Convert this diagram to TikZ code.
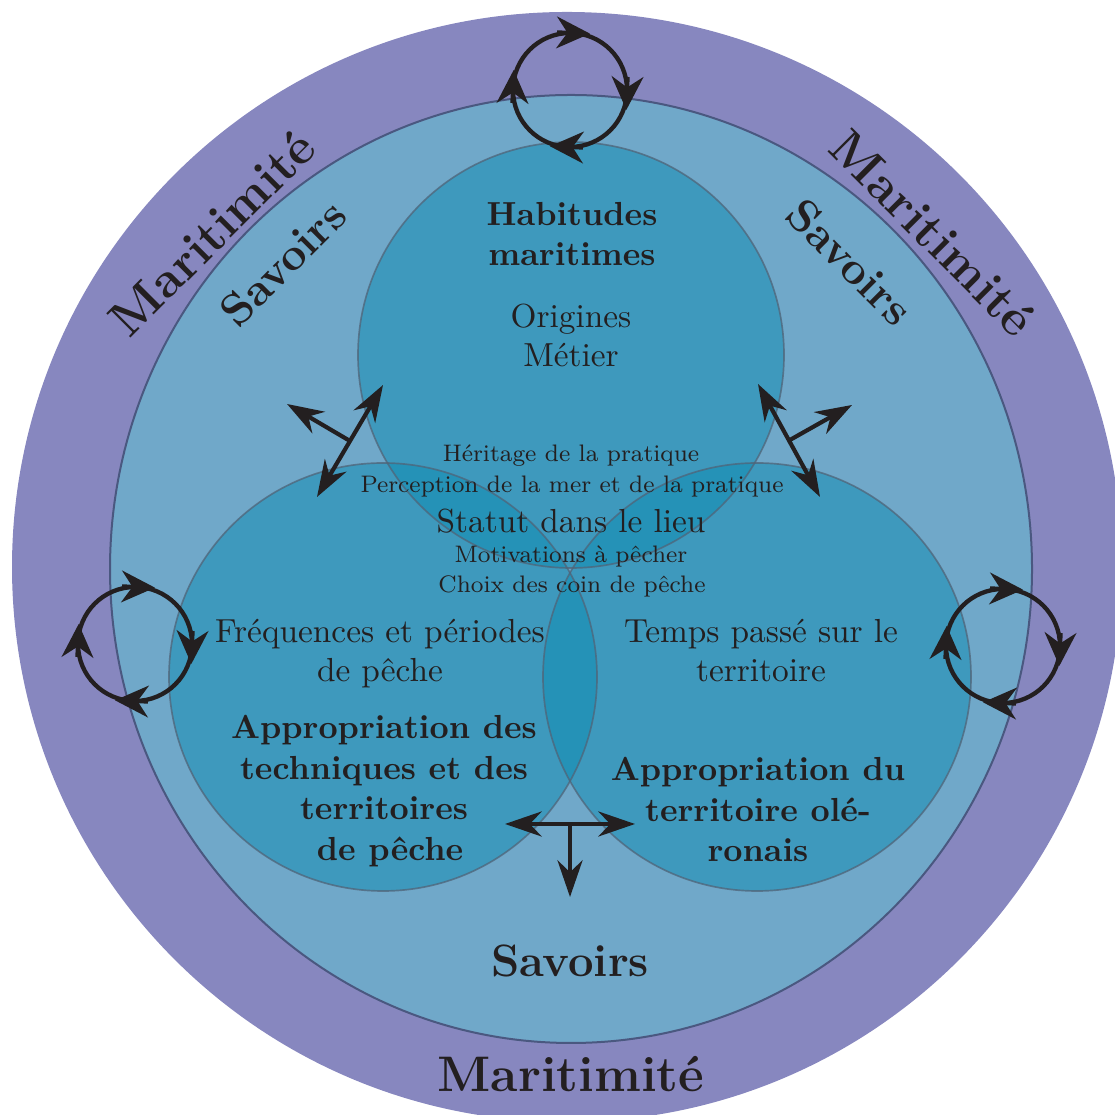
\documentclass[tikz,border=0pt]{standalone}
\usetikzlibrary{arrows.meta,calc}
\definecolor{purp}{RGB}{135,135,191}
\definecolor{lblue}{RGB}{112,168,201}
\definecolor{teal1}{RGB}{14,140,179}
\definecolor{edgea}{RGB}{74,88,128}
\definecolor{edgeb}{RGB}{80,100,120}
\definecolor{ink}{RGB}{35,31,32}
\newcommand{\shrk}[1]{\scalebox{0.955}{#1}}
\tikzset{
  txt/.style={text=ink, align=center, font=\fontsize{10}{11.7}\selectfont},
  txtb/.style={text=ink, align=center, font=\fontsize{10}{12.2}\selectfont\bfseries},
  smalltxt/.style={text=ink, anchor=base, font=\fontsize{7.5}{9}\selectfont},
  basetxt/.style={text=ink, anchor=base, font=\fontsize{10}{12}\selectfont},
  bigtxt/.style={text=ink, font=\fontsize{15}{18}\selectfont\bfseries},
  midtxt/.style={text=ink, font=\fontsize{13.6}{16}\selectfont\bfseries},
  xarr/.style={draw=ink, line width=1.25pt, {Stealth[length=11pt,width=7.5pt]}-{Stealth[length=11pt,width=7.5pt]}},
  xone/.style={draw=ink, line width=1.25pt, -{Stealth[length=11pt,width=7.5pt]}},
  ring/.style={draw=ink, line width=1.3pt},
  cyclehead/.style={draw=ink, line width=1.3pt, -{Stealth[length=10pt,width=9.5pt]}},
  disc/.style={fill=teal1, fill opacity=0.5},
  discedge/.style={draw=edgeb, draw opacity=0.75, line width=0.5pt},
}
\begin{document}
\begin{tikzpicture}[x=0.3pt,y=0.3pt]
\useasboundingbox (0,0) rectangle (1115,1115);
\begin{scope}
  \clip (0,0) rectangle (1115,1115);
  \fill[purp] (567,548) circle[radius=555];
\end{scope}
\draw[edgea, fill=lblue, line width=0.6pt] (571,546) ellipse[x radius=461, y radius=474];
% three discs
\coordinate (ctop) at (571,760);
\coordinate (cbl) at (383,438);
\coordinate (cbr) at (757,438);
\fill[disc] (ctop) circle[radius=213];
\fill[disc] (cbl) circle[radius=214];
\fill[disc] (cbr) circle[radius=214];
\draw[discedge] (ctop) circle[radius=213];
\draw[discedge] (cbl) circle[radius=214];
\draw[discedge] (cbr) circle[radius=214];

% texts
\node (habit) [txtb] at (572,881) {Habitudes\\maritimes};
\node (orig) [txt] at (571,780) {Origines\\Métier};
\node (herit) [smalltxt] at (571,653) {\shrk{Héritage de la pratique}};
\node (percep) [smalltxt] at (572,622) {\shrk{Perception de la mer et de la pratique}};
\node (statut) [basetxt] at (571,582) {Statut dans le lieu};
\node (motiv) [smalltxt] at (571,552) {\shrk{Motivations à pêcher}};
\node (choix) [smalltxt] at (572,522) {\shrk{Choix des coin de pêche}};
\node (freq) [txt] at (380,461) {Fréquences et périodes\\de pêche};
\node (temps) [txt] at (761,464) {Temps passé sur le\\territoire};
\node (appl) [txtb] at (384,324) {Appropriation des\\techniques et des\\territoires\\\hspace*{3.6pt}de pêche};
\node (appr) [txtb] at (758,305.5) {Appropriation du\\territoire olé-\\ronais};
\node (savb) [midtxt, anchor=base] at (570,138) {Savoirs};
\node (marb) [bigtxt, anchor=base] at (571,24) {Maritimité};
\node (marl) [bigtxt, rotate=45] at (212,882) {Maritimité};
\node (savl) [midtxt, rotate=45] at (283,852) {Savoirs};
\node (savr) [midtxt, rotate=-45] at (850,853) {Savoirs};
\node (marr) [bigtxt, rotate=-45] at (933,882) {Maritimité};

% cross arrows
\coordinate (la) at (317,618);
\coordinate (lb) at (383,730);
\coordinate (lj) at (350,674);
\coordinate (lt) at (287,711);
\draw[xarr] (la) -- (lb);
\draw[xone] (lj) -- (lt);
\coordinate (ra) at (758,731);
\coordinate (rb) at (820,618);
\coordinate (rj) at (789,674.5);
\coordinate (rt) at (852,710);
\draw[xarr] (ra) -- (rb);
\draw[xone] (rj) -- (rt);
\coordinate (ba) at (505,291);
\coordinate (bb) at (635,291);
\coordinate (bj) at (570,291);
\coordinate (bt) at (570,218);
\draw[xarr] (ba) -- (bb);
\draw[xone] (bj) -- (bt);

% cycle loops: ring with four tangent heads (clockwise)
\foreach \cx/\cy/\nm in {570/1025/lt1, 135/471/lt2, 1003/469/lt3}{
  \coordinate (\nm) at (\cx,\cy);
  \draw[ring] (\nm) circle[radius=57];
  \foreach \a in {88,-2,-92,178}{
    \draw[cyclehead] ($(\nm)+(\a:57)+(\a-90:-15)$) -- ($(\nm)+(\a:57)+(\a-90:18)$);
  }
}
\end{tikzpicture}
\end{document}
